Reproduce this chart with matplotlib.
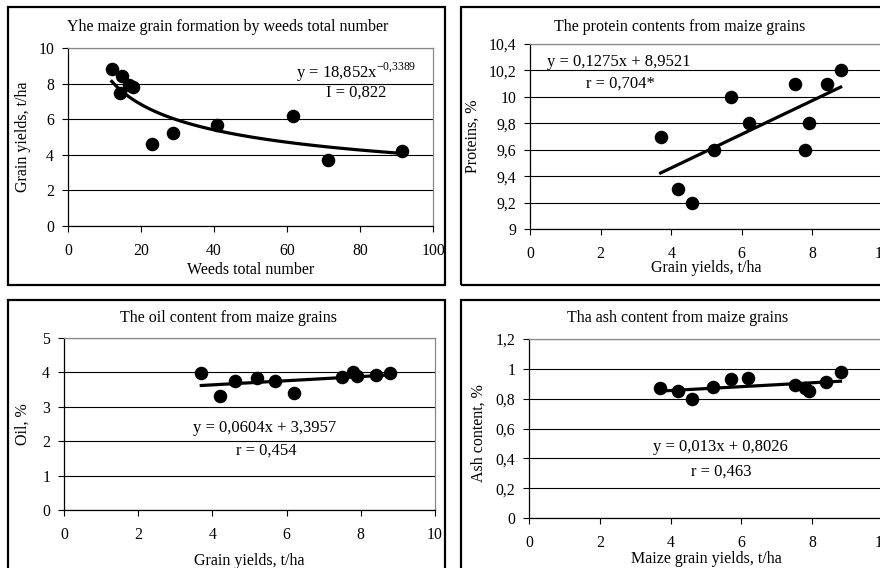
import numpy as np
import matplotlib
matplotlib.use("Agg")
import matplotlib.pyplot as plt
from matplotlib.patches import Rectangle
from matplotlib.ticker import FuncFormatter, MultipleLocator

plt.rcParams['font.family'] = ['Liberation Serif', 'DejaVu Serif']
plt.rcParams['mathtext.fontset'] = 'custom'
plt.rcParams['mathtext.rm'] = 'Liberation Serif'
plt.rcParams['font.size'] = 11

# data
yields = [3.7, 4.2, 4.6, 5.2, 5.7, 6.2, 7.5, 7.8, 7.9, 8.4, 8.8]
weeds = [71.3, 91.4, 22.9, 28.9, 40.7, 61.7, 14.2, 17.8, 16.8, 14.7, 12.0]
protein = [9.7, 9.3, 9.2, 9.6, 10.0, 9.8, 10.1, 9.6, 9.8, 10.1, 10.2]
oil = [3.97, 3.31, 3.75, 3.85, 3.75, 3.39, 3.87, 4.01, 3.9, 3.92, 3.97]
ash = [0.87, 0.85, 0.80, 0.88, 0.93, 0.94, 0.89, 0.87, 0.85, 0.91, 0.98]

# trendline coefficients as printed on the chart
pow_a, pow_b = 18.852, -0.3389
prot_k, prot_c = 0.1275, 8.9521
oil_k, oil_c = 0.0604, 3.3957
ash_k, ash_c = 0.013, 0.8026

W, H = 880, 568
fig = plt.figure(figsize=(W / 100, H / 100), dpi=100)

TICK = 11.3
LAB = 11.5
EQ = 12


def px_axes(x0, y0, x1, y1):
    return fig.add_axes([x0 / W, 1 - y1 / H, (x1 - x0) / W, (y1 - y0) / H])


def frame(x0, y0, x1, y1):
    fig.add_artist(Rectangle((x0 / W, 1 - y1 / H), (x1 - x0) / W, (y1 - y0) / H,
                             transform=fig.transFigure, fill=False,
                             edgecolor='black', lw=1.6, clip_on=False))


comma = FuncFormatter(lambda v, p: ('%g' % round(v, 6)).replace('.', ','))


def style(ax, xlim, xstep, ylim, ystep):
    ax.set_xlim(*xlim)
    ax.set_ylim(*ylim)
    ax.xaxis.set_major_locator(MultipleLocator(xstep))
    ax.yaxis.set_major_locator(MultipleLocator(ystep))
    ax.xaxis.set_major_formatter(comma)
    ax.yaxis.set_major_formatter(comma)
    ax.tick_params(direction='out', length=4, width=0.8, labelsize=TICK, pad=6)
    ax.tick_params(axis='x', pad=8)
    for s in ['left', 'bottom']:
        ax.spines[s].set_color('black')
        ax.spines[s].set_linewidth(0.9)
    for s in ['top', 'right']:
        ax.spines[s].set_color('#888888')
        ax.spines[s].set_linewidth(0.9)
    ax.yaxis.grid(True, color='black', lw=0.8)
    ax.set_axisbelow(True)


dot = dict(s=95, color='black', zorder=3, linewidths=0)
trend = dict(color='black', lw=2.3, zorder=4)

# frames
frame(8, 7, 445, 285)
frame(461, 7, 900, 285)
frame(8, 300, 445, 580)
frame(461, 300, 900, 580)

# top left
ax1 = px_axes(68, 48, 433, 226)
style(ax1, (0, 100), 20, (0, 10), 2)
ax1.scatter(weeds, yields, **dot)
xs = np.linspace(min(weeds), max(weeds), 100)
ax1.plot(xs, pow_a * xs ** pow_b, **trend)
ax1.text(79, 8.65, r'y = 18,852x$^{\mathrm{-0{,}3389}}$', ha='center', va='center', fontsize=EQ)
ax1.text(79, 7.47, 'I = 0,822', ha='center', va='center', fontsize=EQ)
ax1.set_xlabel('Weeds total number', fontsize=LAB)
ax1.set_ylabel('Grain yields, t/ha', fontsize=LAB)
ax1.xaxis.set_label_coords(0.5, -0.2)
ax1.yaxis.set_label_coords(-0.101, 0.5)
fig.text(228 / W, 1 - 27 / H, 'Yhe maize grain formation by weeds total number',
         ha='center', va='center', fontsize=LAB)

# top right
ax2 = px_axes(530, 44, 883, 229)
style(ax2, (0, 10), 2, (9, 10.4), 0.2)
ax2.scatter(yields, protein, **dot)
xl = np.array([min(yields), max(yields)])
ax2.plot(xl, prot_k * xl + prot_c, **trend)
ax2.text(2.5, 10.26, 'y = 0,1275x + 8,9521', ha='center', va='center', fontsize=EQ)
ax2.text(2.55, 10.1, 'r = 0,704*', ha='center', va='center', fontsize=EQ)
ax2.set_xlabel('Grain yields, t/ha', fontsize=LAB)
ax2.set_ylabel('Proteins, %', fontsize=LAB)
ax2.xaxis.set_label_coords(0.5, -0.17)
ax2.yaxis.set_label_coords(-0.139, 0.5)
fig.text(680 / W, 1 - 27 / H, 'The protein contents from maize grains',
         ha='center', va='center', fontsize=LAB)

# bottom left
ax3 = px_axes(64, 338, 435, 510)
style(ax3, (0, 10), 2, (0, 5), 1)
ax3.scatter(yields, oil, **dot)
ax3.plot(xl, oil_k * xl + oil_c, **trend)
ax3.text(5.41, 2.37, 'y = 0,0604x + 3,3957', ha='center', va='center', fontsize=EQ)
ax3.text(5.46, 1.74, 'r = 0,454', ha='center', va='center', fontsize=EQ)
ax3.set_xlabel('Grain yields, t/ha', fontsize=LAB)
ax3.set_ylabel('Oil, %', fontsize=LAB)
ax3.xaxis.set_label_coords(0.5, -0.25)
ax3.yaxis.set_label_coords(-0.089, 0.5)
fig.text(228 / W, 1 - 318 / H, 'The oil content from maize grains',
         ha='center', va='center', fontsize=LAB)

# bottom right
ax4 = px_axes(529, 339, 883, 518)
style(ax4, (0, 10), 2, (0, 1.2), 0.2)
ax4.scatter(yields, ash, **dot)
ax4.plot(xl, ash_k * xl + ash_c, **trend)
ax4.text(5.4, 0.473, 'y = 0,013x + 0,8026', ha='center', va='center', fontsize=EQ)
ax4.text(5.44, 0.312, 'r = 0,463', ha='center', va='center', fontsize=EQ)
ax4.set_xlabel('Maize grain yields, t/ha', fontsize=LAB)
ax4.set_ylabel('Ash content, %', fontsize=LAB)
ax4.xaxis.set_label_coords(0.5, -0.185)
ax4.yaxis.set_label_coords(-0.121, 0.475)
fig.text(678 / W, 1 - 318 / H, 'Tha ash content from maize grains',
         ha='center', va='center', fontsize=LAB)

fig.savefig('out.png', dpi=100)
